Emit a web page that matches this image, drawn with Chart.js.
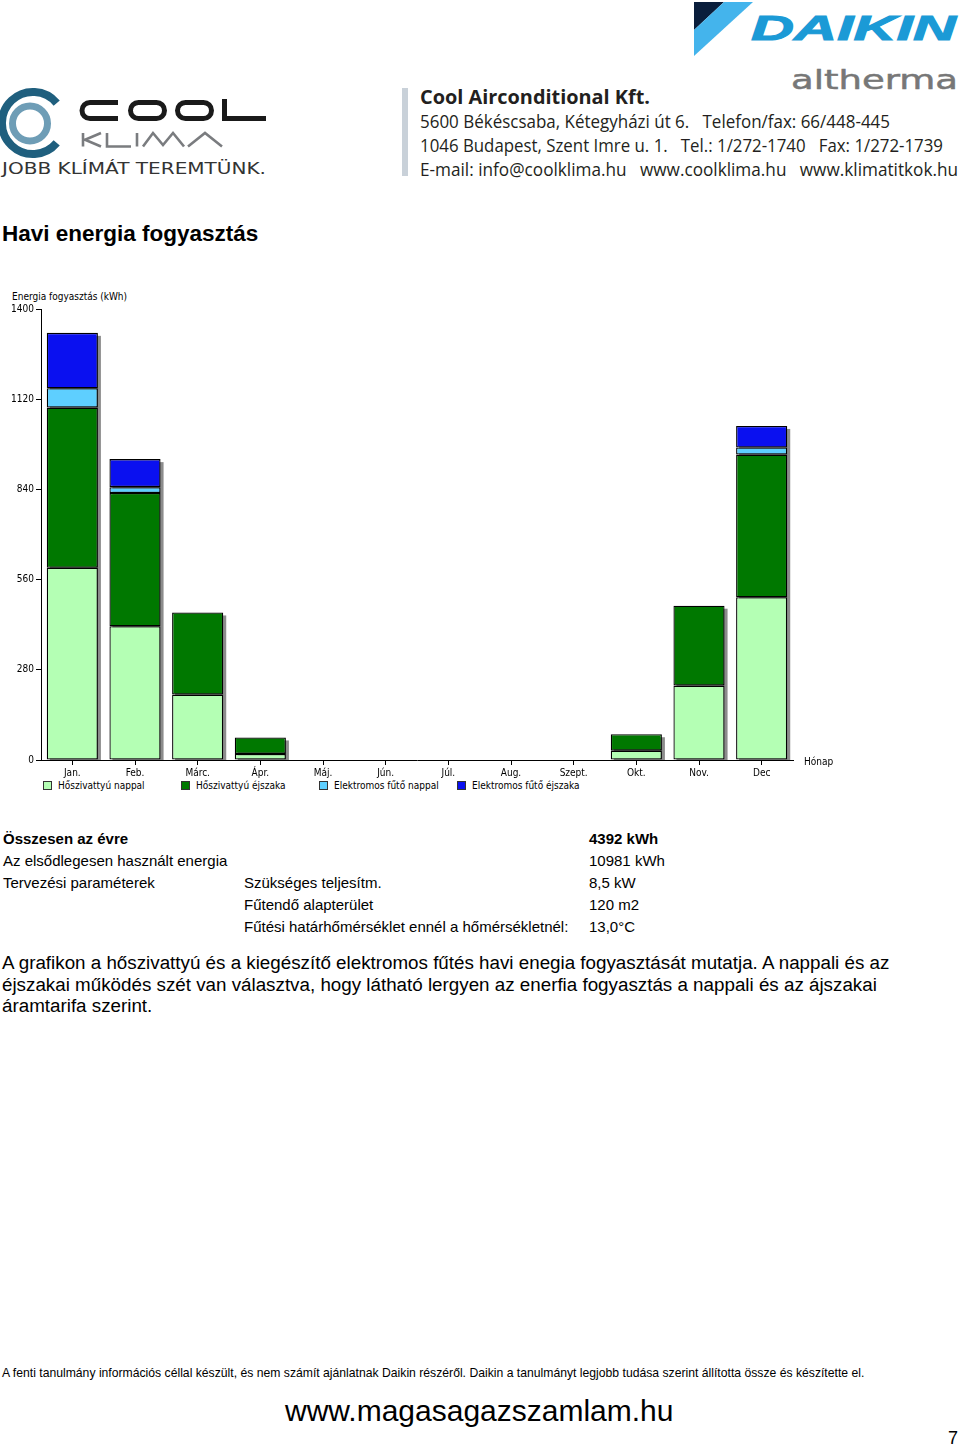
<!DOCTYPE html>
<html lang="hu">
<head>
  <meta charset="UTF-8">
  <title>Havi energia fogyasztás</title>
  <script src="https://cdn.jsdelivr.net/npm/chart.js"></script>
  <style>
    body {
      margin: 0;
      background: #ffffff;
      font-family: "Liberation Sans", Arial, sans-serif;
      color: #000;
    }
    .page {
      position: relative;
      width: 960px;
      height: 1446px;
      overflow: hidden;
    }
    .abs { position: absolute; white-space: nowrap; }
    .small {
      font-family: "DejaVu Sans Condensed", "DejaVu Sans", sans-serif;
      font-size: 10px;
    }
    svg text { white-space: pre; }
    h1 {
      position: absolute;
      left: 2px;
      top: 221px;
      margin: 0;
      font-size: 22.5px;
      font-weight: bold;
    }
    .chart-box {
      position: absolute;
      left: 0;
      top: 300px;
      width: 860px;
      height: 480px;
    }
    #legend {
      position: absolute;
      left: 43px;
      top: 780px;
      display: flex;
    }
    #legend .item {
      width: 138px;
      display: flex;
      align-items: center;
    }
    #legend .box {
      width: 7px;
      height: 7px;
      border: 1px solid #333;
      margin-right: 6px;
    }
    table.params {
      position: absolute;
      left: 0;
      top: 827px;
      border-collapse: collapse;
      font-size: 15px;
    }
    table.params td {
      padding: 0 0 0 3px;
      height: 22px;
      vertical-align: middle;
    }
    .desc {
      position: absolute;
      left: 2px;
      top: 952px;
      font-size: 18.8px;
      line-height: 21.5px;
    }
  </style>
</head>
<body>
<div class="page">

  <svg class="abs" style="left:0;top:0" width="960" height="190" viewBox="0 0 960 190">
    <!-- cool klima logo -->
    <path d="M56.7,103.1 A31,31 0 1 0 56.7,142.9" fill="none" stroke="#1f5f7e" stroke-width="8"/>
    <circle cx="30" cy="123.5" r="17.5" fill="none" stroke="#6e9db6" stroke-width="7"/>
    <g fill="none" stroke="#1a1a1a" stroke-width="5">
      <path d="M118,102.5 H90 A8,8 0 0 0 90,118.5 H118"/>
      <rect x="130.5" y="102.5" width="34" height="16" rx="8"/>
      <rect x="177.5" y="102.5" width="34" height="16" rx="8"/>
      <path d="M224.5,99 V118.5 H266"/>
    </g>
    <g fill="none" stroke="#7a7c7f" stroke-width="2.6">
      <path d="M83,133 V146.5 M101,133 L85,139.8 L101,146.5"/>
      <path d="M107,133 V146.5 H131"/>
      <path d="M137,133 V146.5"/>
      <path d="M143,146.5 L153,133 L163,145 L173,133 L184,146.5"/>
      <path d="M188,146.5 L205,133 L222,146.5"/>
    </g>
    <text x="2" y="174" font-family="DejaVu Sans, sans-serif" font-size="15" textLength="264" lengthAdjust="spacingAndGlyphs" fill="#333">JOBB KLÍMÁT TEREMTÜNK.</text>

    <rect x="402" y="88" width="6" height="88" fill="#c9d1d9"/>
    <g font-family="'Open Sans', 'Noto Sans', sans-serif" fill="#231f20">
      <text x="420" y="104" font-size="20" font-weight="bold" textLength="230" lengthAdjust="spacingAndGlyphs">Cool Airconditional Kft.</text>
      <text x="420" y="127.5" font-size="17.5" textLength="470" lengthAdjust="spacingAndGlyphs">5600 Békéscsaba, Kétegyházi út 6.   Telefon/fax: 66/448-445</text>
      <text x="420" y="151.5" font-size="17.5" textLength="523" lengthAdjust="spacingAndGlyphs">1046 Budapest, Szent Imre u. 1.   Tel.: 1/272-1740   Fax: 1/272-1739</text>
      <text x="420" y="175.5" font-size="17.5" textLength="538" lengthAdjust="spacingAndGlyphs">E-mail: info@coolklima.hu   www.coolklima.hu   www.klimatitkok.hu</text>
    </g>

    <!-- daikin altherma -->
    <polygon points="694,2 724,2 694,30" fill="#0a1e3c"/>
    <polygon points="724,2 753,2 694,56 694,30" fill="#44b4ec"/>
    <text x="751" y="39.5" font-family="'Liberation Sans', Arial, sans-serif" font-size="35.5" font-weight="bold" font-style="italic" textLength="205" lengthAdjust="spacingAndGlyphs" fill="#1b9ad6" stroke="#1b9ad6" stroke-width="1">DAIKIN</text>
    <text x="791" y="89" font-family="'DejaVu Sans', sans-serif" font-size="27" textLength="167" lengthAdjust="spacingAndGlyphs" fill="#777" stroke="#777" stroke-width="0.5">altherma</text>
  </svg>

  <h1>Havi energia fogyasztás</h1>

  <div class="abs small" style="left:12px;top:291px">Energia fogyasztás (kWh)</div>
  <div class="chart-box"><canvas id="barChart"></canvas></div>
  <div class="abs small" style="left:804px;top:756px">Hónap</div>
  <div id="legend" class="small"></div>

  <table class="params">
    <tr><td style="width:238px"><b>Összesen az évre</b></td><td style="width:342px"></td><td><b>4392 kWh</b></td></tr>
    <tr><td>Az elsődlegesen használt energia</td><td></td><td>10981 kWh</td></tr>
    <tr><td>Tervezési paraméterek</td><td>Szükséges teljesítm.</td><td>8,5 kW</td></tr>
    <tr><td></td><td>Fűtendő alapterület</td><td>120 m2</td></tr>
    <tr><td></td><td>Fűtési határhőmérséklet ennél a hőmérsékletnél:</td><td>13,0°C</td></tr>
  </table>

  <div class="desc">A grafikon a hőszivattyú és a kiegészítő elektromos fűtés havi enegia fogyasztását mutatja. A nappali és az<br>éjszakai működés szét van választva, hogy látható lergyen az enerfia fogyasztás a nappali és az ájszakai<br>áramtarifa szerint.</div>

  <div class="abs" style="left:2px;top:1366px;font-size:12.2px">A fenti tanulmány információs céllal készült, és nem számít ajánlatnak Daikin részéről. Daikin a tanulmányt legjobb tudása szerint állította össze és készítette el.</div>
  <div class="abs" style="left:285px;top:1394px;font-size:30px">www.magasagazszamlam.hu</div>
  <div class="abs" style="left:948px;top:1428px;font-size:18px">7</div>
</div>

<script>
  const months = ['Jan.', 'Feb.', 'Márc.', 'Ápr.', 'Máj.', 'Jún.', 'Júl.', 'Aug.', 'Szept.', 'Okt.', 'Nov.', 'Dec'];
  const seriesNames = ['Hőszivattyú nappal', 'Hőszivattyú éjszaka', 'Elektromos fűtő nappal', 'Elektromos fűtő éjszaka'];
  const hpDay   = [597, 415, 203, 19, 0, 0, 0, 0, 0, 29, 231, 505];
  const hpNight = [497, 414, 255, 51, 0, 0, 0, 0, 0, 51, 248, 443];
  const elDay   = [60, 18, 0, 0, 0, 0, 0, 0, 0, 0, 0, 22];
  const elNight = [172, 87, 0, 0, 0, 0, 0, 0, 0, 0, 0, 67];
  const yTicks = [0, 280, 560, 840, 1120, 1400];

  const colors = ['#b4ffb4', '#007800', '#5ecfff', '#0a10f0'];
  const series = [hpDay, hpNight, elDay, elNight];
  const smallFont = { family: "'DejaVu Sans Condensed', 'DejaVu Sans', sans-serif", size: 10 };

  // legend
  const legend = document.getElementById('legend');
  seriesNames.forEach((name, i) => {
    const item = document.createElement('div');
    item.className = 'item';
    item.innerHTML = '<span class="box" style="background:' + colors[i] + '"></span>' + name;
    legend.appendChild(item);
  });

  // grey drop shadow behind each stacked column
  const shadowPlugin = {
    id: 'stackShadow',
    beforeDatasetsDraw(chart) {
      const ctx = chart.ctx;
      const base = chart.scales.y.getPixelForValue(0);
      months.forEach((m, i) => {
        let total = 0;
        series.forEach(s => { total += s[i]; });
        if (!total) return;
        const bar = chart.getDatasetMeta(0).data[i];
        const top = chart.scales.y.getPixelForValue(total);
        ctx.save();
        ctx.fillStyle = '#8c8c8c';
        ctx.fillRect(bar.x - bar.width / 2 + 3, top + 3, bar.width, base - top - 3);
        ctx.restore();
      });
    }
  };

  new Chart(document.getElementById('barChart'), {
    type: 'bar',
    data: {
      labels: months,
      datasets: series.map((s, i) => ({
        label: seriesNames[i],
        data: s,
        backgroundColor: colors[i],
        borderColor: '#000',
        borderWidth: 1.3,
        borderSkipped: false,
        categoryPercentage: 1,
        barPercentage: 0.816
      }))
    },
    options: {
      responsive: true,
      maintainAspectRatio: false,
      animation: false,
      layout: { padding: { left: 0, top: 9, right: 67, bottom: 0 } },
      plugins: {
        legend: { display: false },
        tooltip: { enabled: false }
      },
      scales: {
        x: {
          stacked: true,
          afterFit(scale) { scale.height = 20; },
          grid: { offset: false, drawOnChartArea: false, tickLength: 5, color: '#000' },
          border: { color: '#000', width: 1 },
          ticks: { color: '#000', font: smallFont, padding: 2, maxRotation: 0, autoSkip: false }
        },
        y: {
          stacked: true,
          min: 0,
          max: 1400,
          afterFit(scale) { scale.width = 41; },
          afterBuildTicks(scale) { scale.ticks = yTicks.map(v => ({ value: v })); },
          grid: { drawOnChartArea: false, tickLength: 5, color: '#000' },
          border: { color: '#000', width: 1 },
          ticks: { color: '#000', font: smallFont, padding: 2, callback: v => String(v) }
        }
      }
    },
    plugins: [shadowPlugin]
  });
</script>
</body>
</html>
